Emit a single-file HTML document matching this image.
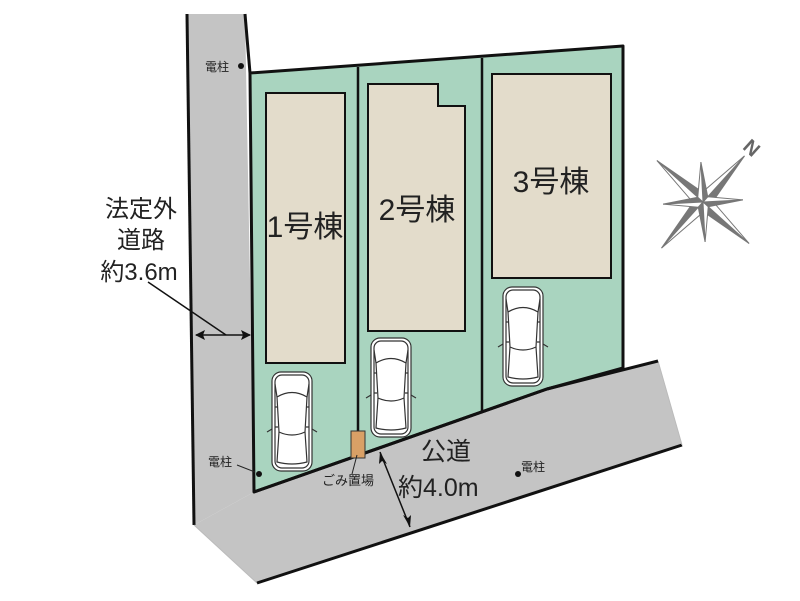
<!DOCTYPE html>
<html><head><meta charset="utf-8"><style>
html,body{margin:0;padding:0;background:#fff;}
svg{display:block;}
text{font-family:"Liberation Sans","Noto Sans CJK JP",sans-serif;fill:#222;}
</style></head><body>
<svg width="800" height="601" viewBox="0 0 800 601" xmlns="http://www.w3.org/2000/svg">
<defs>
<g id="car" fill="#fff" stroke="#333" stroke-width="1.2">
  <path d="M-5,60 L0,57 M45,60 L40,57" fill="none"/>
  <rect x="0" y="0" width="40" height="99" rx="9"/>
  <rect x="3" y="3" width="34" height="93" rx="7" fill="none"/>
  <path d="M5,25 Q20,16 35,25 L33,60 Q20,66 7,60 Z"/>
  <path d="M7,60 L5,90 Q20,94 35,90 L33,60" fill="none"/>
  <path d="M5,25 L3,12 M35,25 L37,12" fill="none"/>
  <path d="M3,35 L5,35 M37,35 L35,35 M3,55 L6,55 M37,55 L34,55" fill="none"/>
</g>
</defs>
<!-- left road -->
<polygon points="187,14 245,14 254,492 194,525" fill="#c4c4c4"/>
<polygon points="194,525 254,492 547,389 658,361 682,445 257,583" fill="#c4c4c4"/>
<line x1="187" y1="14" x2="194" y2="525" stroke="#111" stroke-width="3"/>
<line x1="194" y1="525" x2="257" y2="583" stroke="#bbb" stroke-width="1"/>
<line x1="257" y1="583" x2="682" y2="445" stroke="#111" stroke-width="3"/>
<line x1="658" y1="361" x2="682" y2="445" stroke="#bbb" stroke-width="1"/>
<!-- lot -->
<polygon points="250,73 623,46 623,368 547,389 254,492" fill="#a9d4bf" stroke="#111" stroke-width="3" stroke-linejoin="round"/>
<line x1="245" y1="14" x2="250" y2="73" stroke="#111" stroke-width="3"/>
<polyline points="254,492 547,389 658,361" fill="none" stroke="#111" stroke-width="3"/>
<line x1="358" y1="67" x2="358" y2="456" stroke="#111" stroke-width="2.5"/>
<line x1="482" y1="58" x2="482" y2="412" stroke="#111" stroke-width="2.5"/>
<!-- houses -->
<rect x="266" y="93" width="79" height="270" fill="#e3dccb" stroke="#111" stroke-width="2"/>
<polygon points="368,84 438,84 438,106 465,106 465,331 368,331" fill="#e3dccb" stroke="#111" stroke-width="2"/>
<rect x="492" y="74" width="119" height="204" fill="#e3dccb" stroke="#111" stroke-width="2"/>
<text x="305" y="237" font-size="30" text-anchor="middle">1号棟</text>
<text x="417" y="220" font-size="30" text-anchor="middle">2号棟</text>
<text x="551" y="192" font-size="30" text-anchor="middle">3号棟</text>
<!-- cars -->
<use href="#car" x="272" y="372"/>
<use href="#car" x="371" y="338"/>
<use href="#car" x="503" y="287"/>
<!-- gomi -->
<rect x="351" y="431" width="14" height="27" fill="#d9a066" stroke="#333" stroke-width="1"/>
<line x1="357" y1="455" x2="352" y2="474" stroke="#222" stroke-width="1"/>
<text x="322" y="485" font-size="13">ごみ置場</text>
<!-- poles -->
<circle cx="241" cy="66" r="3" fill="#111"/>
<text x="205" y="71" font-size="12">電柱</text>
<circle cx="259" cy="474" r="3" fill="#111"/>
<text x="208" y="466" font-size="12">電柱</text>
<line x1="237" y1="465" x2="255" y2="472" stroke="#222" stroke-width="1"/>
<circle cx="518" cy="474" r="3" fill="#111"/>
<text x="521" y="471" font-size="12">電柱</text>
<!-- left road label -->
<text x="141" y="217" font-size="24" text-anchor="middle">法定外</text>
<text x="141" y="248" font-size="24" text-anchor="middle">道路</text>
<text x="139" y="280" font-size="24" text-anchor="middle">約3.6m</text>
<line x1="148" y1="282" x2="226" y2="335" stroke="#111" stroke-width="1.5"/>
<line x1="196" y1="335" x2="250" y2="335" stroke="#111" stroke-width="1.5"/>
<path d="M195,335 L205,330 L203,335 L205,340 Z M251,335 L241,330 L243,335 L241,340 Z" fill="#111"/>
<!-- public road label -->
<text x="421" y="460" font-size="25">公道</text>
<text x="398" y="496" font-size="25">約4.0m</text>
<line x1="380" y1="452" x2="410" y2="527" stroke="#111" stroke-width="1.5"/>
<path d="M380,452 L379,464 L382,461 L387,464 Z M410,527 L411,515 L408,518 L403,515 Z" fill="#111"/>
<!-- compass -->
<g transform="translate(703,202) rotate(42)">
  <g fill="#777" stroke="#777" stroke-width="1">
    <polygon points="0,-62 7,-7 0,0"/><polygon points="0,-62 -7,-7 0,0" fill="#fff"/>
    <polygon points="0,62 -7,7 0,0"/><polygon points="0,62 7,7 0,0" fill="#fff"/>
    <polygon points="62,0 7,7 0,0"/><polygon points="62,0 7,-7 0,0" fill="#fff"/>
    <polygon points="-62,0 -7,-7 0,0"/><polygon points="-62,0 -7,7 0,0" fill="#fff"/>
    <g transform="rotate(45)">
      <polygon points="0,-40 5,-5 0,0"/><polygon points="0,-40 -5,-5 0,0" fill="#fff"/>
      <polygon points="0,40 -5,5 0,0"/><polygon points="0,40 5,5 0,0" fill="#fff"/>
      <polygon points="40,0 5,5 0,0"/><polygon points="40,0 5,-5 0,0" fill="#fff"/>
      <polygon points="-40,0 -5,-5 0,0"/><polygon points="-40,0 -5,5 0,0" fill="#fff"/>
    </g>
  </g>
  <text x="0" y="-66" font-size="20" text-anchor="middle" font-weight="bold" style="fill:#666">N</text>
</g>
</svg>
</body></html>
